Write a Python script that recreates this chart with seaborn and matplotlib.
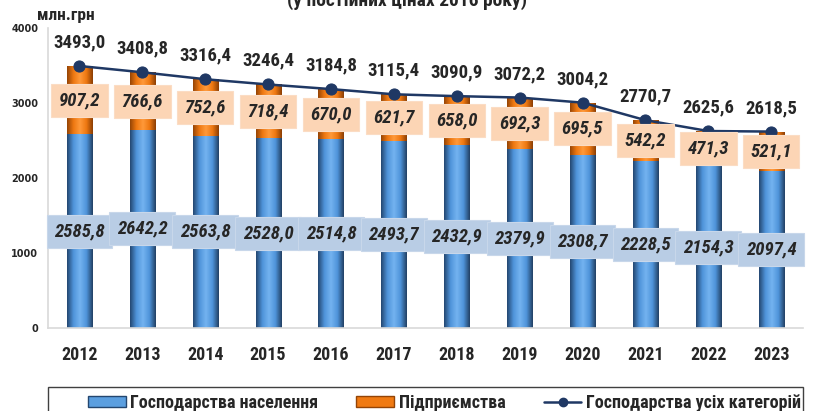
import numpy as np
import pandas as pd
import matplotlib
matplotlib.use("Agg")
import matplotlib.pyplot as plt
import seaborn as sns
from matplotlib import font_manager
from matplotlib.lines import Line2D
from matplotlib.patches import Patch, Rectangle
from matplotlib.colors import LinearSegmentedColormap

years = ["2012", "2013", "2014", "2015", "2016", "2017", "2018", "2019", "2020", "2021", "2022", "2023"]
households = [2585.8, 2642.2, 2563.8, 2528.0, 2514.8, 2493.7, 2432.9, 2379.9, 2308.7, 2228.5, 2154.3, 2097.4]
enterprises = [907.2, 766.6, 752.6, 718.4, 670.0, 621.7, 658.0, 692.3, 695.5, 542.2, 471.3, 521.1]
totals = [3493.0, 3408.8, 3316.4, 3246.4, 3184.8, 3115.4, 3090.9, 3072.2, 3004.2, 2770.7, 2625.6, 2618.5]

lbl_households = "Господарства населення"
lbl_enterprises = "Підприємства"
lbl_total = "Господарства усіх категорій"
unit_label = "млн.грн"
title = "(у постійних цінах 2016 року)"

def fmt(v):
    return f"{v:.1f}".replace(".", ",")

df = pd.DataFrame({"year": years, "households": households,
                   "enterprises": enterprises, "total": totals})
df["pos"] = np.arange(len(df))

# pick a condensed bold font if one is installed
ttf = font_manager.fontManager.ttflist
names = {f.name for f in ttf}
COND = None
STRETCH = "normal"
for c in ["Liberation Sans Narrow", "Roboto Condensed", "Open Sans Condensed",
          "DejaVu Sans Condensed", "Noto Sans Condensed"]:
    if c in names:
        COND = c
        break
if COND is None:
    for f in ttf:
        if f.name in ("DejaVu Sans", "Noto Sans", "Roboto", "Open Sans") and \
                str(f.stretch) in ("condensed", "semi-condensed", "extra-condensed"):
            COND = f.name
            STRETCH = str(f.stretch)
            break
narrow = COND is not None
if COND is None:
    COND = "Liberation Sans"
FAM = [COND, "DejaVu Sans"]
k = 1.0 if narrow else 0.86

sns.set_style("white")
plt.rcParams["font.family"] = FAM
plt.rcParams["font.weight"] = "bold"
plt.rcParams["font.stretch"] = STRETCH

fig = plt.figure(figsize=(8.14, 4.11), dpi=100)
ax = fig.add_axes([0.059, 0.202, 0.927, 0.73])

BLUE = "#5B9FE0"
ORANGE = "#F07A12"
NAVY = "#1F3864"

# stacked bars: total (orange) drawn first, households (blue) over it
sns.barplot(data=df, x="year", y="total", color=ORANGE, width=0.40,
            saturation=1, ax=ax, edgecolor="none")
n_or = len(ax.patches)
sns.barplot(data=df, x="year", y="households", color=BLUE, width=0.40,
            saturation=1, ax=ax, edgecolor="none")

# cylinder-like shading
blue_cmap = LinearSegmentedColormap.from_list("b", ["#23466F", "#4F94DA", "#74B3F0", "#4F94DA", "#213F62"])
or_cmap = LinearSegmentedColormap.from_list("o", ["#944405", "#EE7811", "#FF993A", "#EE7811", "#8A3D04"])
grad = np.linspace(0, 1, 256).reshape(1, -1)
for i, p in enumerate(list(ax.patches)):
    cmap = or_cmap if i < n_or else blue_cmap
    x0, y0 = p.get_x(), p.get_y()
    w, h = p.get_width(), p.get_height()
    im = ax.imshow(grad, cmap=cmap, aspect="auto", extent=[x0, x0 + w, y0, y0 + h],
                   zorder=p.get_zorder() + 0.1 + (0.05 if i >= n_or else 0), interpolation="bilinear")
    im.set_clip_path(p)

sns.lineplot(data=df, x="pos", y="total", color=NAVY, marker="o", markersize=8,
             markeredgecolor=NAVY, linewidth=1.8, ax=ax, zorder=5, legend=False)

ax.set_xlim(-0.5, len(years) - 0.5)
ax.set_ylim(0, 4000)
ax.set_yticks([0, 1000, 2000, 3000, 4000])
ax.set_yticklabels(["0", "1000", "2000", "3000", "4000"], fontsize=7, fontweight="bold",
                   family=["DejaVu Sans"], stretch="normal")
ax.set_xticks(range(len(years)))
ax.set_xticklabels(years, fontsize=13 * k, fontweight="bold")
ax.set_xticks(np.arange(-0.5, len(years)), minor=True)
ax.tick_params(axis="x", which="major", length=0, pad=13)
ax.tick_params(axis="x", which="minor", length=5, color="#D9D9D9", direction="out")
ax.tick_params(axis="y", length=4, color="#D9D9D9", direction="out", pad=3)
ax.set_xlabel("")
ax.set_ylabel("")
for s in ["top", "right"]:
    ax.spines[s].set_visible(False)
for s in ["left", "bottom"]:
    ax.spines[s].set_color("#D9D9D9")
    ax.spines[s].set_linewidth(1.2)

for i in range(len(years)):
    ax.text(i, households[i] / 2, fmt(households[i]), ha="center", va="center",
            fontsize=13.5 * k, fontweight="bold", style="italic", zorder=7,
            bbox=dict(boxstyle="square,pad=0.4", facecolor="#B9CDE5", edgecolor="#C8D7EA", linewidth=0.8))
    ax.text(i, households[i] + enterprises[i] / 2, fmt(enterprises[i]), ha="center", va="center",
            fontsize=13.5 * k, fontweight="bold", style="italic", zorder=7,
            bbox=dict(boxstyle="square,pad=0.4", facecolor="#FCD5B5", edgecolor="#FBDCC4", linewidth=0.8))
    ax.annotate(fmt(totals[i]), (i, totals[i]), xytext=(0, 17), textcoords="offset points",
                ha="center", va="center", fontsize=13.5 * k, fontweight="bold", zorder=7)

fig.text(0.5, 0.999, title, ha="center", va="center", fontsize=14 * k, fontweight="bold")
fig.text(0.046, 0.962, unit_label, ha="left", va="center", fontsize=12.5 * k, fontweight="bold")

# legend frame (spans nearly the full width, cut at bottom like the reference)
fig.patches.append(Rectangle((0.059, -0.02), 0.927, 0.078, transform=fig.transFigure,
                             facecolor="white", edgecolor="#404040", linewidth=1.0, zorder=1))
handles = [Patch(facecolor=BLUE, edgecolor="#23466F"),
           Patch(facecolor=ORANGE, edgecolor="#944405"),
           Line2D([0], [0], color=NAVY, marker="o", markersize=6, linewidth=1.8)]
leg = fig.legend(handles, [lbl_households, lbl_enterprises, lbl_total], ncol=3,
                 loc="center left", bbox_to_anchor=(0.097, 0.02),
                 frameon=False, handlelength=2.1, handletextpad=0.25, columnspacing=2.1,
                 handleheight=0.5, borderpad=0.0,
                 prop={"weight": "bold", "size": 13 * k, "family": FAM, "stretch": STRETCH})

fig.savefig("out.png", dpi=100)
